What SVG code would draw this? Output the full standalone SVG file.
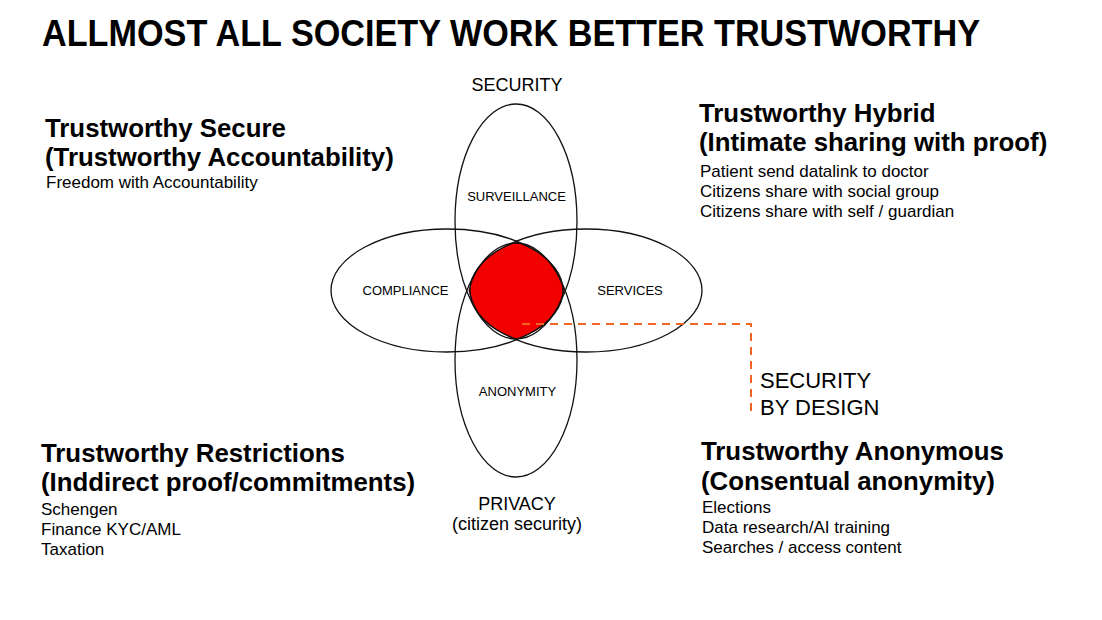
<svg xmlns="http://www.w3.org/2000/svg" width="1102" height="620" viewBox="0 0 1102 620">
<style>
text{font-family:"Liberation Sans",Arial,sans-serif;fill:#000}
.title{font-size:36px;font-weight:bold}
.h{font-size:25.8px;font-weight:bold}
.b{font-size:17px}
.axis{font-size:18px;text-anchor:middle}
.lab{font-size:13px;text-anchor:middle}
.sbd{font-size:22px}
.ell{fill:none;stroke:#111;stroke-width:1.3}
.red{fill:#f20000;stroke:#3a0000;stroke-width:1}
.dash{fill:none;stroke:#f26522;stroke-width:2;stroke-dasharray:8 6}
</style>
<rect width="1102" height="620" fill="#fff"/>
<text class="title" x="42" y="46" textLength="938" lengthAdjust="spacingAndGlyphs">ALLMOST ALL SOCIETY WORK BETTER TRUSTWORTHY</text>

<g id="venn-center">
<path class="red" d="M469 290.5 C477 262 490 252 516.5 242 C543 252 556 262 564 290.5 C556 319 543 329 516.5 339 C490 329 477 319 469 290.5 Z"/>
</g>
<g id="security">
<ellipse class="ell" cx="516" cy="221.5" rx="61" ry="117.5"/>
<text class="axis" x="517" y="91">SECURITY</text>
<text class="lab" x="516.5" y="201">SURVEILLANCE</text>
</g>
<g id="privacy">
<ellipse class="ell" cx="516" cy="360" rx="61" ry="117"/>
<text class="lab" x="517.5" y="396">ANONYMITY</text>
<text class="axis" x="517" y="509.5">PRIVACY</text>
<text class="axis" x="517" y="530">(citizen security)</text>
</g>
<g id="compliance">
<ellipse class="ell" cx="447" cy="290.5" rx="116" ry="61.5"/>
<text class="lab" x="405.5" y="295">COMPLIANCE</text>
</g>
<g id="services">
<ellipse class="ell" cx="586" cy="290.5" rx="116" ry="61.5"/>
<text class="lab" x="630" y="295">SERVICES</text>
</g>

<g id="connectors">
<path class="dash" d="M522 324 H751 V415"/>
</g>
<g id="security-by-design">
<text class="sbd" x="760" y="388">SECURITY</text>
<text class="sbd" x="760" y="415">BY DESIGN</text>
</g>

<g id="trustworthy-secure">
<text class="h" x="45" y="136.5">Trustworthy Secure</text>
<text class="h" x="45" y="166">(Trustworthy Accountability)</text>
<text class="b" x="46" y="187.5">Freedom with Accountability</text>
</g>
<g id="trustworthy-hybrid">
<text class="h" x="699" y="122">Trustworthy Hybrid</text>
<text class="h" x="699" y="151">(Intimate sharing with proof)</text>
<text class="b" x="700" y="177">Patient send datalink to doctor</text>
<text class="b" x="700" y="197">Citizens share with social group</text>
<text class="b" x="700" y="216.5">Citizens share with self / guardian</text>
</g>
<g id="trustworthy-restrictions">
<text class="h" x="41" y="461.5">Trustworthy Restrictions</text>
<text class="h" x="41" y="491">(Inddirect proof/commitments)</text>
<text class="b" x="41" y="515">Schengen</text>
<text class="b" x="41" y="535">Finance KYC/AML</text>
<text class="b" x="41" y="555">Taxation</text>
</g>
<g id="trustworthy-anonymous">
<text class="h" x="701" y="460">Trustworthy Anonymous</text>
<text class="h" x="701" y="490">(Consentual anonymity)</text>
<text class="b" x="702" y="513">Elections</text>
<text class="b" x="702" y="533">Data research/AI training</text>
<text class="b" x="702" y="553">Searches / access content</text>
</g>
</svg>
